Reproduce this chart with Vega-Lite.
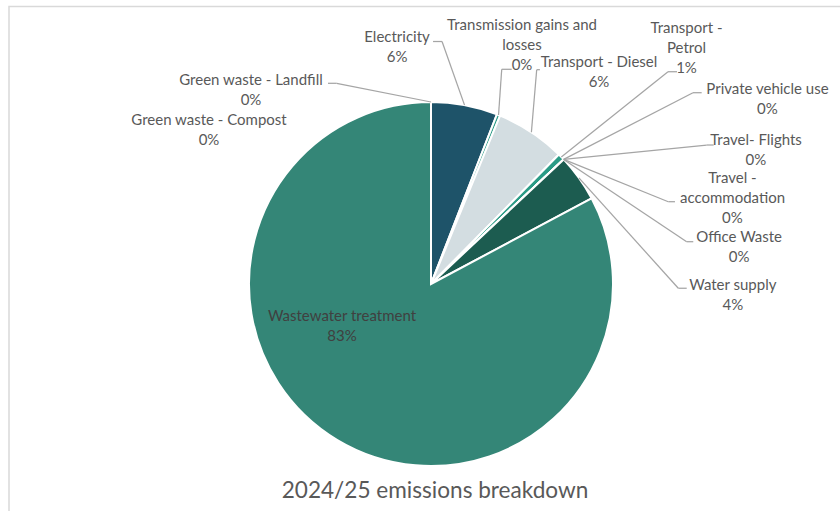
{
  "$schema": "https://vega.github.io/schema/vega-lite/v6.json",
  "width": 844,
  "height": 555,
  "autosize": "none",
  "padding": {"left": 9, "top": 6.5, "right": 0, "bottom": 0},
  "background": "white",
  "title": {"text": "2024/25 emissions breakdown", "orient": "bottom", "frame": "group", "anchor": "middle", "offset": -81.5, "dx": 4, "font": "Lato", "fontSize": 22.6, "fontWeight": "normal", "color": "#595959"},
  "config": {
    "view": {"stroke": "#D9D9D9", "strokeWidth": 1.5},
    "text": {"font": "Lato", "fontSize": 15, "color": "#595959", "lineBreak": "\n", "lineHeight": 20, "align": "center", "baseline": "middle"},
    "rule": {"color": "#A5A5A5", "strokeWidth": 1.25}
  },
  "data": {"values": [
    {"category": "Electricity", "label": "Electricity\n6%", "value": 5.9, "order": 1},
    {"category": "Transmission gains and losses", "label": "Transmission gains and\nlosses\n0%", "value": 0.3, "order": 2},
    {"category": "Transport - Diesel", "label": "Transport - Diesel\n6%", "value": 6.2, "order": 3},
    {"category": "Transport - Petrol", "label": "Transport -\nPetrol\n1%", "value": 0.6, "order": 4},
    {"category": "Private vehicle use", "label": "Private vehicle use\n0%", "value": 0, "order": 5},
    {"category": "Travel- Flights", "label": "Travel- Flights\n0%", "value": 0, "order": 6},
    {"category": "Travel - accommodation", "label": "Travel -\naccommodation\n0%", "value": 0, "order": 7},
    {"category": "Office Waste", "label": "Office Waste\n0%", "value": 0, "order": 8},
    {"category": "Water supply", "label": "Water supply\n4%", "value": 4.2, "order": 9},
    {"category": "Wastewater treatment", "label": "Wastewater treatment\n83%", "value": 82.8, "order": 10},
    {"category": "Green waste - Compost", "label": "Green waste - Compost\n0%", "value": 0, "order": 11},
    {"category": "Green waste - Landfill", "label": "Green waste - Landfill\n0%", "value": 0, "order": 12}
  ]},
  "transform": [
    {"window": [{"op": "sum", "field": "value", "as": "cum"}], "sort": [{"field": "order"}], "frame": [null, 0]},
    {"calculate": "(datum.cum - datum.value / 2) * PI / 50", "as": "mid"},
    {"calculate": "sin(datum.mid)", "as": "ex"},
    {"calculate": "cos(datum.mid)", "as": "ey"}
  ],
  "layer": [
    {
      "mark": {"type": "arc", "outerRadius": 182, "stroke": "white", "strokeWidth": 2},
      "encoding": {
        "theta": {"field": "value", "type": "quantitative", "stack": true},
        "order": {"field": "order", "type": "quantitative"},
        "color": {"field": "category", "type": "nominal", "legend": null,
          "scale": {
            "domain": ["Electricity", "Transmission gains and losses", "Transport - Diesel", "Transport - Petrol", "Private vehicle use", "Travel- Flights", "Travel - accommodation", "Office Waste", "Water supply", "Wastewater treatment", "Green waste - Compost", "Green waste - Landfill"],
            "range": ["#1E5369", "#2A9B86", "#D3DDE1", "#2A9B86", "#7FA8B8", "#A9C2CC", "#4C8F83", "#8DB8AE", "#1C5C50", "#348677", "#5FA596", "#8CC0B4"]
          }
        }
      }
    },
    {
      "encoding": {
        "x": {"field": "ex", "type": "quantitative", "scale": {"domain": [-2.3187, 2.3187], "nice": false, "zero": false}, "axis": null},
        "y": {"field": "ey", "type": "quantitative", "scale": {"domain": [-1.5247, 1.5247], "nice": false, "zero": false}, "axis": null}
      },
      "layer": [
        {"transform": [{"filter": "datum.category === 'Electricity'"}], "layer": [
          {"mark": {"type": "rule", "x2Offset": -22.5, "y2Offset": -63.6}, "encoding": {"x2": {"field": "ex"}, "y2": {"field": "ey"}}},
          {"mark": {"type": "rule", "xOffset": -22.5, "yOffset": -63.6, "x2Offset": -31.5, "y2Offset": -63.6}, "encoding": {"x2": {"field": "ex"}, "y2": {"field": "ey"}}},
          {"mark": {"type": "text", "dx": -67.5, "dy": -68.1}, "encoding": {"text": {"field": "label"}}}
        ]},
        {"transform": [{"filter": "datum.category === 'Transmission gains and losses'"}], "layer": [
          {"mark": {"type": "rule", "x2Offset": 3.2, "y2Offset": -45.7}, "encoding": {"x2": {"field": "ex"}, "y2": {"field": "ey"}}},
          {"mark": {"type": "rule", "xOffset": 3.2, "yOffset": -45.7, "x2Offset": 13.2, "y2Offset": -45.7}, "encoding": {"x2": {"field": "ex"}, "y2": {"field": "ey"}}},
          {"mark": {"type": "text", "dx": 23.5, "dy": -89.5}, "encoding": {"text": {"field": "label"}}}
        ]},
        {"transform": [{"filter": "datum.category === 'Transport - Diesel'"}], "layer": [
          {"mark": {"type": "rule", "x2Offset": 5.3, "y2Offset": -62.5}, "encoding": {"x2": {"field": "ex"}, "y2": {"field": "ey"}}},
          {"mark": {"type": "rule", "xOffset": 5.3, "yOffset": -62.5, "x2Offset": 8.5, "y2Offset": -62.5}, "encoding": {"x2": {"field": "ex"}, "y2": {"field": "ey"}}},
          {"mark": {"type": "text", "dx": 67.6, "dy": -70.5}, "encoding": {"text": {"field": "label"}}}
        ]},
        {"transform": [{"filter": "datum.category === 'Transport - Petrol'"}], "layer": [
          {"mark": {"type": "rule", "x2Offset": 106.7, "y2Offset": -85.2}, "encoding": {"x2": {"field": "ex"}, "y2": {"field": "ey"}}},
          {"mark": {"type": "rule", "xOffset": 106.7, "yOffset": -85.2, "x2Offset": 115.7, "y2Offset": -85.2}, "encoding": {"x2": {"field": "ex"}, "y2": {"field": "ey"}}},
          {"mark": {"type": "text", "dx": 125.2, "dy": -128.6}, "encoding": {"text": {"field": "label"}}}
        ]},
        {"transform": [{"filter": "datum.category === 'Private vehicle use'"}], "layer": [
          {"mark": {"type": "rule", "x2Offset": 129.3, "y2Offset": -66.7}, "encoding": {"x2": {"field": "ex"}, "y2": {"field": "ey"}}},
          {"mark": {"type": "rule", "xOffset": 129.3, "yOffset": -66.7, "x2Offset": 138, "y2Offset": -66.7}, "encoding": {"x2": {"field": "ex"}, "y2": {"field": "ey"}}},
          {"mark": {"type": "text", "dx": 203.8, "dy": -70.4}, "encoding": {"text": {"field": "label"}}}
        ]},
        {"transform": [{"filter": "datum.category === 'Travel- Flights'"}], "layer": [
          {"mark": {"type": "rule", "x2Offset": 143, "y2Offset": -14.4}, "encoding": {"x2": {"field": "ex"}, "y2": {"field": "ey"}}},
          {"mark": {"type": "rule", "xOffset": 143, "yOffset": -14.4, "x2Offset": 150, "y2Offset": -14.4}, "encoding": {"x2": {"field": "ex"}, "y2": {"field": "ey"}}},
          {"mark": {"type": "text", "dx": 192.3, "dy": -19.4}, "encoding": {"text": {"field": "label"}}}
        ]},
        {"transform": [{"filter": "datum.category === 'Travel - accommodation'"}], "layer": [
          {"mark": {"type": "rule", "x2Offset": 104.6, "y2Offset": 42.3}, "encoding": {"x2": {"field": "ex"}, "y2": {"field": "ey"}}},
          {"mark": {"type": "rule", "xOffset": 104.6, "yOffset": 42.3, "x2Offset": 111.3, "y2Offset": 42.3}, "encoding": {"x2": {"field": "ex"}, "y2": {"field": "ey"}}},
          {"mark": {"type": "text", "dx": 168.8, "dy": 18.4}, "encoding": {"text": {"field": "label"}}}
        ]},
        {"transform": [{"filter": "datum.category === 'Office Waste'"}], "layer": [
          {"mark": {"type": "rule", "x2Offset": 123, "y2Offset": 82.3}, "encoding": {"x2": {"field": "ex"}, "y2": {"field": "ey"}}},
          {"mark": {"type": "rule", "xOffset": 123, "yOffset": 82.3, "x2Offset": 129.6, "y2Offset": 82.3}, "encoding": {"x2": {"field": "ex"}, "y2": {"field": "ey"}}},
          {"mark": {"type": "text", "dx": 175.5, "dy": 77.6}, "encoding": {"text": {"field": "label"}}}
        ]},
        {"transform": [{"filter": "datum.category === 'Water supply'"}], "layer": [
          {"mark": {"type": "rule", "x2Offset": 99.4, "y2Offset": 110.3}, "encoding": {"x2": {"field": "ex"}, "y2": {"field": "ey"}}},
          {"mark": {"type": "rule", "xOffset": 99.4, "yOffset": 110.3, "x2Offset": 107.8, "y2Offset": 110.3}, "encoding": {"x2": {"field": "ex"}, "y2": {"field": "ey"}}},
          {"mark": {"type": "text", "dx": 153.9, "dy": 107}, "encoding": {"text": {"field": "label"}}}
        ]},
        {"transform": [{"filter": "datum.category === 'Wastewater treatment'"}], "layer": [
          {"mark": {"type": "text", "dx": 4.6, "dy": -123.8, "color": "#404040"}, "encoding": {"text": {"field": "label"}}}
        ]},
        {"transform": [{"filter": "datum.category === 'Green waste - Compost'"}], "layer": [
          {"mark": {"type": "text", "dx": -222, "dy": 17.7}, "encoding": {"text": {"field": "label"}}}
        ]},
        {"transform": [{"filter": "datum.category === 'Green waste - Landfill'"}], "layer": [
          {"mark": {"type": "rule", "x2Offset": -94.3, "y2Offset": -18.7}, "encoding": {"x2": {"field": "ex"}, "y2": {"field": "ey"}}},
          {"mark": {"type": "rule", "xOffset": -94.3, "yOffset": -18.7, "x2Offset": -103, "y2Offset": -18.7}, "encoding": {"x2": {"field": "ex"}, "y2": {"field": "ey"}}},
          {"mark": {"type": "text", "dx": -180, "dy": -22.3}, "encoding": {"text": {"field": "label"}}}
        ]}
      ]
    }
  ]
}
